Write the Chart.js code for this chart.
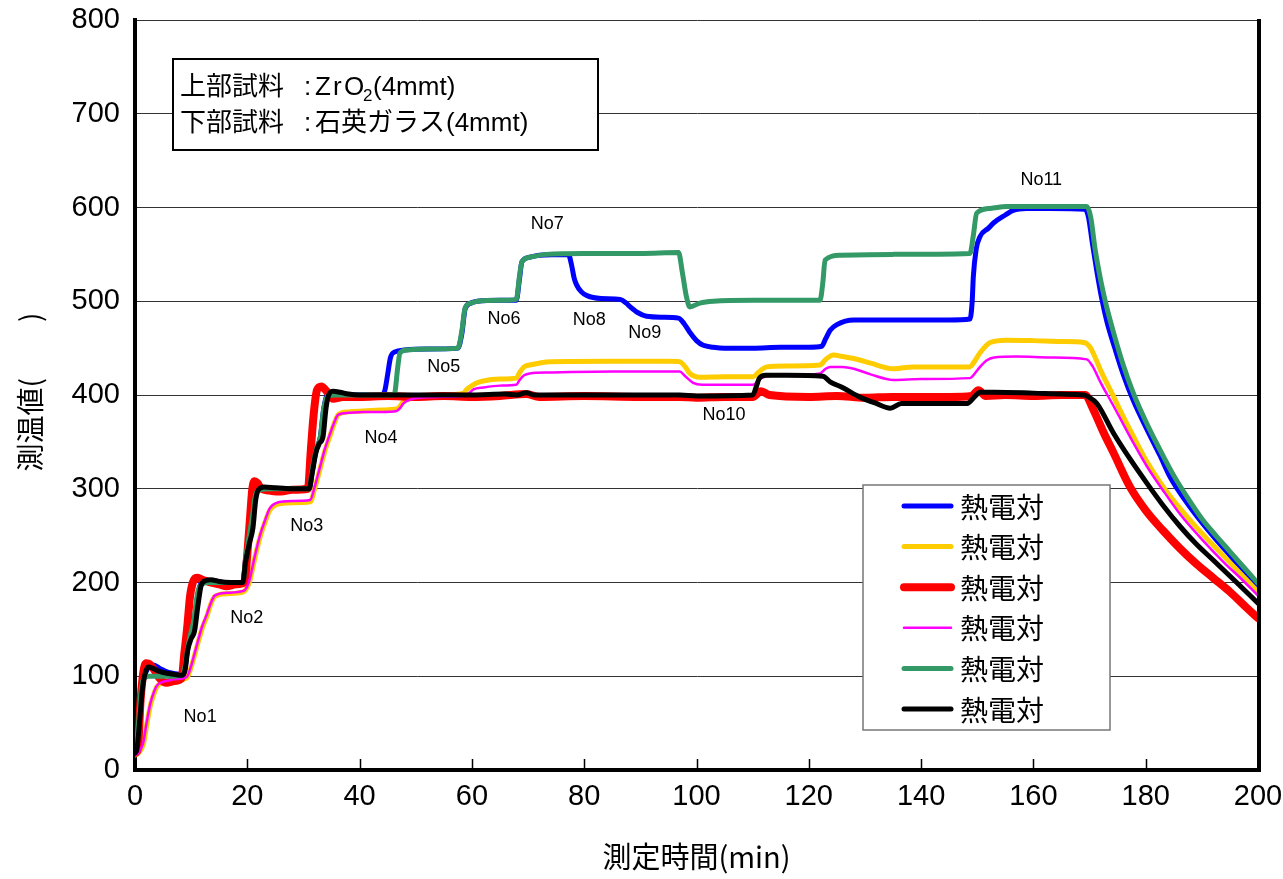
<!DOCTYPE html>
<html>
<head>
<meta charset="utf-8">
<script src="https://cdn.jsdelivr.net/npm/chart.js@4.4.1/dist/chart.umd.min.js"></script>
<style>
  html, body { margin: 0; padding: 0; background: #fff; }
  #wrap { width: 1283px; height: 879px; }
</style>
</head>
<body>
<div id="wrap"><canvas id="c" width="1283" height="879"></canvas></div>
<script>
// Thermocouple readings: [time (min), temperature]
const tcBlue = [[0,20],[0.4,30],[0.9,70],[1.4,95],[2,105],[2.5,110],[3.3,112],[4.5,108],[6,104],[8.3,102],[8.9,108],[9.3,128],[9.8,140],[10.4,150],[11,180],[11.6,197],[12.5,201],[14,202],[16,200],[19.2,200],[19.7,225],[20.3,245],[20.9,268],[21.4,292],[22,299],[23,301],[26,300],[31,300],[31.6,320],[32.2,340],[33,355],[33.6,385],[34.2,400],[35,402],[37,400],[40,400],[44,400],[44.5,405],[45,422],[45.5,440],[46.3,446],[48,448],[52,449],[57.5,450],[58.2,465],[58.8,492],[59.8,498],[61,500],[65,501],[67.9,501],[68.5,525],[68.9,542],[70.3,547],[72,549],[77.2,550],[77.7,540],[78.2,525],[78.6,518],[79.5,510],[80.5,506],[83,503],[86.4,502],[87.5,498],[88.2,494],[89.5,488],[91.1,484],[94,483],[96.8,482],[97.8,476],[98.8,467],[100,458],[101.2,453],[103,451],[105,450],[110,450],[115,451],[120,451],[122.3,452],[123,460],[123.8,469],[125,475],[128,480],[135,480],[140,480],[145,480],[148.7,481],[149.1,500],[149.3,526],[149.8,555],[150.5,569],[152,578],[153,584],[155,592],[156.4,597],[158.8,599],[163,599],[169.2,598],[169.8,590],[170.5,562],[171.3,532],[172.2,502],[173.1,478],[174.5,450],[176,422],[177.8,394],[180,366],[182.5,336],[184.4,312],[187,288],[190,264],[192.5,246],[195,229],[197.5,211],[200,194]];

const tcYellow = [[0,16],[0.6,18],[1.5,28],[2,45],[2.7,68],[3.3,80],[3.9,89],[5,93],[5.6,94],[7.5,96],[9.2,98],[10,110],[11,131],[11.9,150],[12.8,164],[13.5,177],[14.2,185],[16.3,188],[19.3,190],[20,195],[20.5,203],[21.3,225],[22.3,249],[23.2,265],[24,277],[25.2,283],[28,285],[31.2,286],[32,300],[32.9,320],[33.8,340],[34.7,356],[35.5,370],[36.2,379],[38,382],[40.6,383],[44,384],[46.6,385],[47.2,388],[47.8,393],[49,396],[50.7,398],[55,400],[58.5,402],[59.1,406],[60.3,411],[60.9,413],[62,415],[65,417],[67.9,418],[68.5,424],[69.3,430],[70.3,432],[72,434],[73.9,435.5],[85,436],[95,436],[97,435.5],[98,430],[98.8,423],[100.6,419],[105,419.5],[110.1,419.5],[111,424],[112.5,430],[116,431],[122,432],[123,438],[124.4,442.7],[126,441],[128,439],[131,434],[135.1,428],[138.6,430],[143,430],[148.7,430],[149.3,434],[150.5,445],[152.3,456],[155.2,458.5],[160,458],[165,457],[169,456],[170.1,451],[171,440],[172,426],[174.3,398],[176,377],[177.8,356],[180.2,329],[183,303],[186.1,279],[189,259],[192,240],[196,215],[200,190]];

const tcRed = [[0,18],[0.5,22],[1,75],[1.5,105],[2,114],[2.6,113],[3.5,106],[4.5,97],[5.6,93],[7,95],[8.3,98],[8.8,125],[9.3,152],[9.8,185],[10.3,200],[11,205],[12,203],[13.4,200],[15,198],[16.3,196],[18,198],[19.5,200],[20,230],[20.5,270],[20.9,300],[21.3,308],[21.8,306],[22.5,300],[24,298],[26,297],[28,299],[30.8,300],[31.3,340],[31.8,378],[32.4,405],[33.2,409],[34,405],[35.3,396],[37,398],[40,398],[45,399],[50,398],[55,399],[60,398],[65,399],[69.7,401],[72,398],[80,399],[90,398],[97,398],[100,397],[105,398],[110,398],[111.5,404],[113,400],[120,398],[125,399],[130,397],[135,398],[140,398],[145,398],[149,399],[150.2,405],[151.5,399],[155,400],[160,399],[165,400],[169.2,400],[170.7,384],[172.5,360],[174.3,338],[177.2,302],[180,277],[183,256],[186,237],[189,220],[192,205],[195,190],[198,173],[200,162]];

const tcMagenta = [[0,16],[0.6,18],[1.5,30],[2,48],[2.7,70],[3.3,82],[3.9,90],[5,94],[5.6,95],[7.5,97],[9.2,99],[10,111],[11,133],[11.9,152],[12.8,166],[13.5,178],[14.2,186],[16.3,189],[19.3,191],[20,196],[20.5,205],[21.3,227],[22.3,251],[23.2,267],[24,279],[25.2,285],[28,287],[31.2,288],[32,302],[32.9,322],[33.8,342],[34.7,358],[35.5,371],[36.2,379],[38,381],[40.6,382],[44,382],[46.6,383],[47.2,386],[47.8,391],[49,395],[50.7,397],[55,398],[58.5,399],[59.5,402],[60.3,406],[62,408],[65,410],[67.9,411],[68.5,416],[69.3,421],[70.3,423],[73.9,424],[85,425],[97,425],[98,420],[99.4,413],[101,411],[105,411],[110.1,411],[111,415],[111.9,419],[116,421],[122,423],[123,428],[123.8,430],[126,430],[128,428],[131,422],[135.1,416],[140,417],[148.7,418],[149.3,421],[150.5,430],[151.7,437],[153,440],[157,441],[163,440],[169.5,438],[170.5,431],[172,413],[174.3,388],[177.8,349],[180.2,324],[183,299],[186.1,273],[190,246],[194,221],[197,204],[200,186]];

const tcGreen = [[0,22],[0.5,40],[1,80],[1.5,97],[2.5,100],[4,100],[6,100],[8.3,101],[8.9,110],[9.4,130],[9.9,145],[10.5,160],[11.2,190],[11.9,198],[13,200],[15,200],[19.2,200],[19.7,225],[20.3,248],[20.9,270],[21.5,294],[22.3,299],[24,300],[31,300],[31.6,322],[32.3,342],[33,355],[33.6,385],[34.3,399],[36,400],[40,400],[46,400],[46.3,403],[46.8,430],[47.2,445],[48.5,448],[52,449],[57.5,450],[58.2,468],[58.8,493],[59.8,498],[61,500],[65,501],[67.9,502],[68.5,528],[68.9,542],[70.3,547],[73.3,550],[80,551],[90,551],[96.8,552],[97.5,530],[98.2,505],[98.8,494],[100.6,498],[103,500],[110,501],[122,501],[122.5,520],[122.9,544],[125.6,549],[135,550],[148.7,551],[149.3,570],[149.9,594],[152.3,599],[155.2,601],[169.5,601],[170.2,590],[171,555],[172,522],[173,495],[174.3,466],[176,432],[177.8,402],[180,372],[182.5,342],[185,314],[187.5,290],[190,268],[192.5,250],[195,233],[197.5,216],[200,199]];

const tcBlack = [[0,18],[0.3,21],[0.8,50],[1.3,85],[1.8,103],[2.4,110],[3,109],[4,106],[5,104],[6,103],[7,102],[8.3,101],[8.9,106],[9.4,128],[10,140],[10.6,148],[11.2,175],[11.8,197],[12.6,202],[13.5,203],[15,201],[17,200],[19.2,200],[19.7,222],[20.3,240],[21,258],[21.5,288],[22,299],[23,302],[25,301],[28,300],[31,300],[31.6,318],[32.2,338],[32.8,348],[33.5,356],[34,385],[34.5,400],[35.3,404],[36.5,403],[38,401],[40,400],[50,400],[60,400],[66,401],[68,400],[69.7,402.5],[71,400],[80,400],[90,400],[97,400],[100,399],[110,400],[110.6,408],[111.2,418],[112.3,421],[116,421],[122.5,420],[123.8,414],[126,408],[129,398],[132,391],[134.5,386],[136.5,391],[140,391],[145,391],[148.2,391],[149.5,398],[150.5,403],[153,403],[160,402],[165,401],[169,400],[169.8,398],[171.3,391],[174.3,359],[177.3,331],[180.2,306],[183,283],[186.1,260],[189,241],[192,224],[196.2,200],[200,178]];

const seriesName = '熱電対';
const xTicks = [0, 20, 40, 60, 80, 100, 120, 140, 160, 180, 200];
const yTicks = [0, 100, 200, 300, 400, 500, 600, 700, 800];

// Step annotations: label and [time, temperature] anchor
const stepNames = ['No1','No2','No3','No4','No5','No6','No7','No8','No9','No10','No11'];
const stepAt = [[11.6,56.5],[19.9,162],[30.6,260],[43.8,354],[55,430],[65.7,481],[73.4,582],[80.9,480],[90.8,466],[104.9,378.7],[161.4,629]];

const LATIN = '"Liberation Sans", Arial, sans-serif';
const CJK = '"Noto Sans CJK JP", "Noto Sans CJK SC", sans-serif';

function ds(data, color, width, order) {
  return {
    label: seriesName, data, borderColor: color, backgroundColor: color,
    borderWidth: width, pointRadius: 0, fill: false, order,
    cubicInterpolationMode: 'monotone', borderCapStyle: 'round', borderJoinStyle: 'round'
  };
}

const decorations = {
  id: 'decorations',
  afterDatasetsDraw(chart) {
    const { ctx, chartArea: a, scales: { x, y } } = chart;
    ctx.save();

    // step labels
    ctx.fillStyle = '#000';
    ctx.font = '18px ' + LATIN;
    ctx.textAlign = 'center';
    ctx.textBaseline = 'middle';
    stepNames.forEach((s, i) => {
      ctx.fillText(s, x.getPixelForValue(stepAt[i][0]), y.getPixelForValue(stepAt[i][1]));
    });

    // right frame
    ctx.strokeStyle = '#000';
    ctx.lineWidth = 4;
    ctx.beginPath();
    ctx.moveTo(a.right + 1, a.top - 1);
    ctx.lineTo(a.right + 1, a.bottom + 2);
    ctx.stroke();

    // inward ticks on the time axis
    ctx.lineWidth = 1.5;
    xTicks.slice(1, -1).forEach(t => {
      const px = Math.round(x.getPixelForValue(t)) + 0.5;
      ctx.beginPath();
      ctx.moveTo(px, a.bottom);
      ctx.lineTo(px, a.bottom - 11);
      ctx.stroke();
    });

    // legend box
    const lx = 863, ly = 485, lw = 247, lh = 245;
    ctx.fillStyle = '#fff';
    ctx.fillRect(lx, ly, lw, lh);
    ctx.strokeStyle = '#777';
    ctx.lineWidth = 1.5;
    ctx.strokeRect(lx, ly, lw, lh);
    ctx.font = '28px ' + CJK;
    ctx.textAlign = 'left';
    ctx.textBaseline = 'middle';
    chart.data.datasets.forEach((d, i) => {
      const cy = 506 + i * 40.6;
      ctx.strokeStyle = d.borderColor;
      ctx.lineWidth = d.borderWidth;
      ctx.lineCap = 'round';
      ctx.beginPath();
      ctx.moveTo(904, cy);
      ctx.lineTo(951, cy);
      ctx.stroke();
      ctx.fillStyle = '#000';
      ctx.fillText(d.label, 960, cy + 1);
    });

    // sample note box
    ctx.fillStyle = '#fff';
    ctx.fillRect(173, 59, 425, 91);
    ctx.strokeStyle = '#000';
    ctx.lineWidth = 2;
    ctx.strokeRect(173, 59, 425, 91);
    ctx.fillStyle = '#000';
    ctx.textBaseline = 'alphabetic';
    const b1 = 95, b2 = 131;
    ctx.font = '26px ' + CJK;
    ctx.fillText('上部試料', 180, b1);
    ctx.fillText('下部試料', 180, b2);
    ctx.fillText('石英ガラス', 315, b2);
    ctx.font = '26px ' + LATIN;
    ctx.fillText(':', 304, b1);
    ctx.fillText(':', 304, b2);
    ctx.fillText('Z', 315, b1);
    ctx.fillText('r', 333, b1);
    ctx.fillText('O', 344, b1);
    ctx.fillText('(4mmt)', 373, b1);
    ctx.fillText('(4mmt)', 446, b2);
    ctx.font = '17px ' + LATIN;
    ctx.fillText('2', 363, b1 + 6);

    ctx.restore();
  },
  afterDraw(chart) {
    const { ctx, chartArea: a } = chart;
    ctx.save();
    ctx.fillStyle = '#000';
    ctx.textAlign = 'center';
    ctx.textBaseline = 'middle';
    ctx.font = '29px ' + CJK;
    ctx.fillText('測定時間(min)', (a.left + a.right) / 2, 857);
    ctx.font = '28px ' + CJK;
    ctx.translate(30, 392);
    ctx.rotate(-Math.PI / 2);
    ctx.fillText('測温値(　　)', 0, 0);
    ctx.restore();
  }
};

new Chart(document.getElementById('c'), {
  type: 'line',
  data: {
    datasets: [
      ds(tcBlue, '#0000FF', 5, 6),
      ds(tcYellow, '#FFCC00', 5, 5),
      ds(tcRed, '#FF0000', 8, 4),
      ds(tcMagenta, '#FF00FF', 2.5, 3),
      ds(tcGreen, '#339966', 5, 2),
      ds(tcBlack, '#000000', 5, 1)
    ]
  },
  options: {
    responsive: false,
    animation: false,
    events: [],
    layout: { autoPadding: false, padding: { left: 0, right: 25, top: 20, bottom: 0 } },
    plugins: { legend: { display: false }, tooltip: { enabled: false } },
    scales: {
      x: {
        type: 'linear', min: 0, max: 200,
        afterFit(s) { s.height = 109; s.paddingLeft = 0; s.paddingRight = 0; },
        afterBuildTicks(s) { s.ticks = xTicks.map(v => ({ value: v })); },
        grid: { display: false, drawTicks: false },
        border: { display: true, color: '#000', width: 4 },
        ticks: { color: '#000', padding: 10, maxRotation: 0, autoSkip: false,
                 font: { family: LATIN, size: 29 } }
      },
      y: {
        min: 0, max: 800,
        afterFit(s) { s.width = 135; s.paddingTop = 0; s.paddingBottom = 0; },
        afterBuildTicks(s) { s.ticks = yTicks.map(v => ({ value: v })); },
        grid: { color: '#333', lineWidth: 1, drawTicks: false },
        border: { display: true, color: '#000', width: 4 },
        ticks: { color: '#000', padding: 15, font: { family: LATIN, size: 29 } }
      }
    }
  },
  plugins: [decorations]
});
</script>
</body>
</html>
